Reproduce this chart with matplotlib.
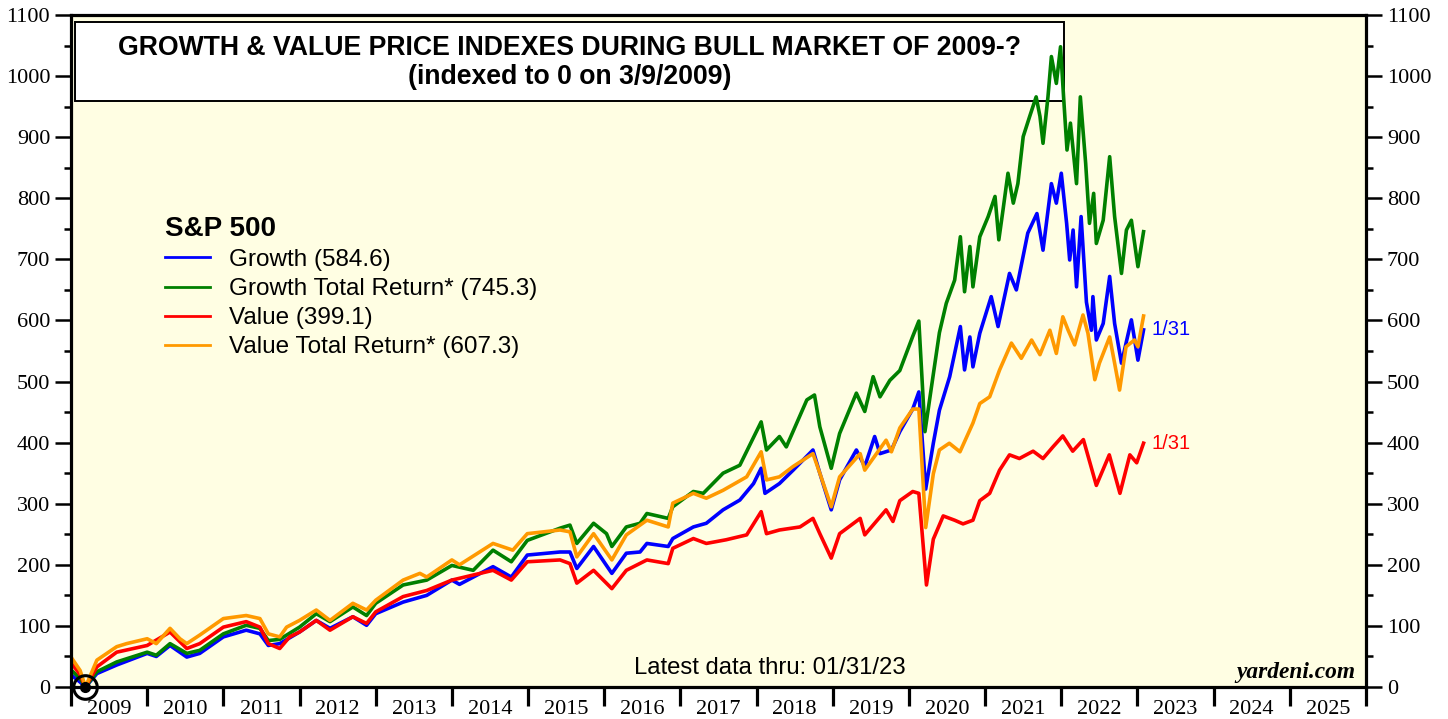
import matplotlib
matplotlib.use('Agg')
import matplotlib.pyplot as plt
from matplotlib.patches import Rectangle
from matplotlib.ticker import MultipleLocator, FixedLocator, FixedFormatter, NullFormatter

# ---------------- data (decimal years, index values) ----------------
growth_t = [2009.0, 2009.12, 2009.19, 2009.34, 2009.6, 2010.0, 2010.12, 2010.3, 2010.52, 2010.69,
            2011.0, 2011.3, 2011.48, 2011.59, 2011.74, 2012.0, 2012.22, 2012.4, 2012.7, 2012.88,
            2013.0, 2013.36, 2013.67, 2014.0, 2014.1, 2014.54, 2014.78, 2014.99, 2015.42, 2015.55,
            2015.64, 2015.86, 2016.1, 2016.29, 2016.47, 2016.56, 2016.84, 2016.9, 2017.17, 2017.34,
            2017.56, 2017.78, 2017.96, 2018.06, 2018.11, 2018.3, 2018.48, 2018.74, 2018.83, 2018.98,
            2019.09, 2019.31, 2019.42, 2019.55, 2019.62, 2019.77, 2019.88, 2020.05, 2020.13, 2020.22,
            2020.32, 2020.4, 2020.535, 2020.675, 2020.73, 2020.8, 2020.84, 2020.93, 2021.08, 2021.17,
            2021.32, 2021.41, 2021.56, 2021.68, 2021.76, 2021.87, 2021.935, 2022.0, 2022.07, 2022.11,
            2022.155, 2022.2, 2022.26, 2022.33, 2022.395, 2022.415, 2022.46, 2022.55, 2022.635, 2022.7,
            2022.79, 2022.92, 2023.006, 2023.08]
growth_v = [20, 8, 0, 22, 36, 55, 50, 68, 49, 55,
            82, 93, 87, 68, 71, 90, 109, 96, 115, 101,
            120, 139, 150, 175, 168, 197, 180, 216, 221, 221,
            194, 230, 186, 219, 221, 235, 230, 243, 262, 268,
            290, 306, 333, 358, 317, 333, 355, 388, 350, 290,
            339, 388, 361, 410, 382, 388, 418, 455, 483, 324,
            399, 453, 508, 590, 519, 573, 524, 579, 639, 590,
            677, 650, 743, 775, 715, 824, 792, 841, 759, 699,
            748, 655, 770, 630, 584, 639, 568, 595, 672, 595,
            530, 601, 535, 584.6]

growth_tr_t = [2009.0, 2009.12, 2009.19, 2009.34, 2009.6, 2010.0, 2010.12, 2010.3, 2010.52, 2010.69,
               2011.0, 2011.3, 2011.48, 2011.59, 2011.74, 2012.0, 2012.22, 2012.4, 2012.7, 2012.88,
               2013.0, 2013.36, 2013.67, 2014.0, 2014.28, 2014.54, 2014.78, 2014.99, 2015.42, 2015.55,
               2015.64, 2015.86, 2016.03, 2016.1, 2016.29, 2016.47, 2016.56, 2016.84, 2016.9, 2017.17,
               2017.3, 2017.56, 2017.78, 2018.06, 2018.13, 2018.3, 2018.39, 2018.66, 2018.76, 2018.83,
               2018.98, 2019.09, 2019.31, 2019.42, 2019.53, 2019.62, 2019.75, 2019.88, 2020.05, 2020.13,
               2020.21, 2020.32, 2020.4, 2020.49, 2020.6, 2020.675, 2020.73, 2020.8, 2020.84, 2020.93,
               2021.04, 2021.13, 2021.18, 2021.235, 2021.3, 2021.37, 2021.43, 2021.5, 2021.585, 2021.67,
               2021.72, 2021.76, 2021.825, 2021.87, 2021.935, 2021.99, 2022.03, 2022.075, 2022.12, 2022.2,
               2022.25, 2022.32, 2022.37, 2022.425, 2022.46, 2022.55, 2022.635, 2022.7, 2022.79, 2022.855,
               2022.92, 2023.006, 2023.08]
growth_tr_v = [28, 14, 0, 25, 41, 57, 52, 71, 55, 60,
               87, 101, 96, 76, 78, 98, 120, 107, 131, 117,
               137, 167, 175, 199, 191, 224, 205, 240, 260, 265,
               235, 268, 251, 230, 262, 268, 284, 276, 295, 320,
               317, 350, 363, 434, 388, 410, 393, 470, 478, 426,
               358, 415, 481, 451, 508, 475, 502, 518, 574, 599,
               418, 512, 580, 628, 666, 737, 647, 721, 655, 737,
               770, 803, 732, 781, 841, 792, 824, 901, 934, 966,
               934, 890, 966, 1032, 988, 1048, 966, 879, 923, 824,
               966, 857, 759, 808, 726, 764, 868, 770, 677, 748,
               764, 688, 745.3]

value_t = [2009.0, 2009.12, 2009.19, 2009.34, 2009.6, 2010.0, 2010.3, 2010.52, 2010.69, 2011.0,
           2011.3, 2011.48, 2011.59, 2011.74, 2011.87, 2012.0, 2012.22, 2012.4, 2012.7, 2012.88,
           2013.0, 2013.36, 2013.67, 2014.0, 2014.54, 2014.78, 2014.99, 2015.42, 2015.55, 2015.64,
           2015.86, 2016.1, 2016.29, 2016.56, 2016.84, 2016.9, 2017.17, 2017.34, 2017.6, 2017.87,
           2018.06, 2018.13, 2018.3, 2018.57, 2018.74, 2018.83, 2018.98, 2019.09, 2019.36, 2019.42,
           2019.7, 2019.79, 2019.88, 2020.05, 2020.13, 2020.23, 2020.32, 2020.45, 2020.6, 2020.71,
           2020.84, 2020.93, 2021.06, 2021.19, 2021.32, 2021.45, 2021.63, 2021.76, 2021.89, 2022.02,
           2022.15, 2022.29, 2022.39, 2022.46, 2022.63, 2022.77, 2022.9, 2022.99, 2023.08]
value_v = [40, 20, 0, 33, 57, 68, 90, 63, 71, 98,
           107, 98, 71, 63, 82, 90, 109, 93, 115, 104,
           123, 148, 158, 175, 191, 175, 205, 208, 202, 170,
           191, 161, 191, 208, 202, 227, 243, 235, 241, 249,
           287, 251, 257, 262, 276, 251, 211, 251, 276, 249,
           290, 271, 305, 320, 317, 167, 242, 280, 273, 267,
           273, 305, 317, 355, 380, 374, 386, 374, 393, 411,
           386, 405, 361, 330, 380, 317, 380, 367, 399.1]

value_tr_t = [2009.0, 2009.12, 2009.19, 2009.34, 2009.6, 2009.73, 2010.0, 2010.12, 2010.3, 2010.43,
              2010.52, 2010.69, 2011.0, 2011.3, 2011.48, 2011.59, 2011.74, 2011.83, 2012.0, 2012.22,
              2012.4, 2012.7, 2012.88, 2013.0, 2013.36, 2013.58, 2013.67, 2014.0, 2014.1, 2014.54,
              2014.8, 2014.99, 2015.42, 2015.55, 2015.64, 2015.86, 2016.1, 2016.29, 2016.56, 2016.84,
              2016.9, 2017.17, 2017.34, 2017.56, 2017.87, 2018.06, 2018.13, 2018.3, 2018.48, 2018.74,
              2018.83, 2018.98, 2019.09, 2019.36, 2019.42, 2019.7, 2019.77, 2019.88, 2020.05, 2020.13,
              2020.22, 2020.32, 2020.4, 2020.53, 2020.67, 2020.84, 2020.93, 2021.06, 2021.19, 2021.345,
              2021.475, 2021.61, 2021.72, 2021.85, 2021.935, 2022.02, 2022.09, 2022.175, 2022.285, 2022.35,
              2022.44, 2022.5, 2022.635, 2022.7, 2022.765, 2022.85, 2022.96, 2023.006, 2023.08]
value_tr_v = [49, 27, 0, 44, 66, 71, 79, 71, 96, 79,
              71, 85, 112, 117, 112, 87, 82, 98, 109, 126,
              109, 137, 126, 142, 175, 186, 180, 208, 200, 235,
              224, 251, 257, 254, 213, 251, 208, 249, 273, 262,
              301, 317, 309, 322, 344, 385, 339, 344, 361, 382,
              350, 295, 344, 382, 355, 404, 385, 424, 455, 455,
              261, 349, 388, 399, 385, 432, 464, 475, 519, 563,
              538, 568, 544, 584, 546, 606, 584, 560, 609, 579,
              503, 530, 573, 530, 486, 557, 568, 557, 607.3]

series_labels = ["Growth (584.6)", "Growth Total Return* (745.3)",
                 "Value (399.1)", "Value Total Return* (607.3)"]
series_colors = ["#0000ff", "#008000", "#ff0000", "#ff9900"]
year_labels = [str(y) for y in range(2009, 2026)]
start_point = (2009.185, 0)

SANS = "Liberation Sans"
SERIF = "Liberation Serif"

fig = plt.figure(figsize=(14.48, 7.19), dpi=100)
fig.patch.set_facecolor("white")
ax = fig.add_axes([71 / 1448, 1 - 687 / 719, (1366 - 71) / 1448, (687 - 15) / 719])
ax.set_facecolor("#fffee3")

lines = []
for t, v, lab, col in zip([growth_t, growth_tr_t, value_t, value_tr_t],
                          [growth_v, growth_tr_v, value_v, value_tr_v],
                          series_labels, series_colors):
    ln, = ax.plot(t, v, color=col, lw=2.6, label=lab, zorder=3, solid_joinstyle="round")
    lines.append(ln)

ax.set_xlim(2009, 2026)
ax.set_ylim(0, 1100)

for s in ax.spines.values():
    s.set_linewidth(2.3)
    s.set_zorder(6)

# y axis
ax.yaxis.set_major_locator(MultipleLocator(100))
ax.yaxis.set_minor_locator(MultipleLocator(50))
ax.tick_params(axis="y", which="both", left=True, right=True, labelleft=True,
               labelright=True, direction="out")
ax.tick_params(axis="y", which="major", length=11.5, width=1.8, pad=3.5, labelsize=16)
ax.tick_params(axis="y", which="minor", length=5, width=1.8)

# x axis
ax.xaxis.set_major_locator(MultipleLocator(1))
ax.xaxis.set_major_formatter(NullFormatter())
ax.xaxis.set_minor_locator(FixedLocator([int(y) + 0.5 for y in year_labels]))
ax.xaxis.set_minor_formatter(FixedFormatter(year_labels))
ax.tick_params(axis="x", which="major", length=13.7, width=2.3, direction="out")
ax.tick_params(axis="x", which="minor", length=0, pad=9, labelsize=16)
for t in ax.yaxis.get_major_ticks():
    t.label2.set_fontfamily(SERIF)
    t.label1.set_fontfamily(SERIF)
for t in ax.xaxis.get_minor_ticks():
    t.label1.set_fontfamily(SERIF)

# title box
ax.add_patch(Rectangle((0.0031, 0.872), 0.7637, 0.1176, transform=ax.transAxes,
                       facecolor="white", edgecolor="black", lw=1.4, zorder=2))
ax.text(0.3853, 0.951, "GROWTH & VALUE PRICE INDEXES DURING BULL MARKET OF 2009-?",
        transform=ax.transAxes, ha="center", va="center", fontsize=19.2,
        fontweight="bold", family=SANS, zorder=4)
ax.text(0.3853, 0.9077, "(indexed to 0 on 3/9/2009)",
        transform=ax.transAxes, ha="center", va="center", fontsize=19.2,
        fontweight="bold", family=SANS, zorder=4)

# legend
leg = ax.legend(handles=lines, title="S&P 500", loc="upper left",
                bbox_to_anchor=(0.0726, 0.701), frameon=False, borderpad=0,
                prop={"family": SANS, "size": 17.5},
                title_fontproperties={"family": SANS, "size": 20, "weight": "bold"},
                handlelength=1.85, handletextpad=0.78, labelspacing=0.29,
                alignment="left", borderaxespad=0)
for h in leg.legend_handles:
    h.set_linewidth(2.0)

# end labels
ax.annotate("1/31", xy=(growth_t[-1], growth_v[-1]), xytext=(6, 0),
            textcoords="offset points", color="#0000ff", fontsize=14.5,
            family=SANS, va="center", ha="left")
ax.annotate("1/31", xy=(value_t[-1], value_v[-1]), xytext=(6, 0),
            textcoords="offset points", color="#ff0000", fontsize=14.5,
            family=SANS, va="center", ha="left")

# footer texts
ax.text(0.5398, 0.028, "Latest data thru: 01/31/23", transform=ax.transAxes,
        ha="center", va="center", fontsize=17.2, family=SANS, zorder=4)
ax.text(0.9915, 0.022, "yardeni.com", transform=ax.transAxes, ha="right",
        va="center", fontsize=16.8, family=SERIF, fontweight="bold",
        fontstyle="italic", zorder=4)

# start marker (3/9/2009)
ax.plot([start_point[0]], [start_point[1]], marker="o", ms=17, mfc="none",
        mec="black", mew=2.2, clip_on=False, zorder=7)
ax.plot([start_point[0]], [start_point[1]], marker="o", ms=7, mfc="black",
        mec="black", clip_on=False, zorder=7)

fig.savefig("out.png", dpi=100)
